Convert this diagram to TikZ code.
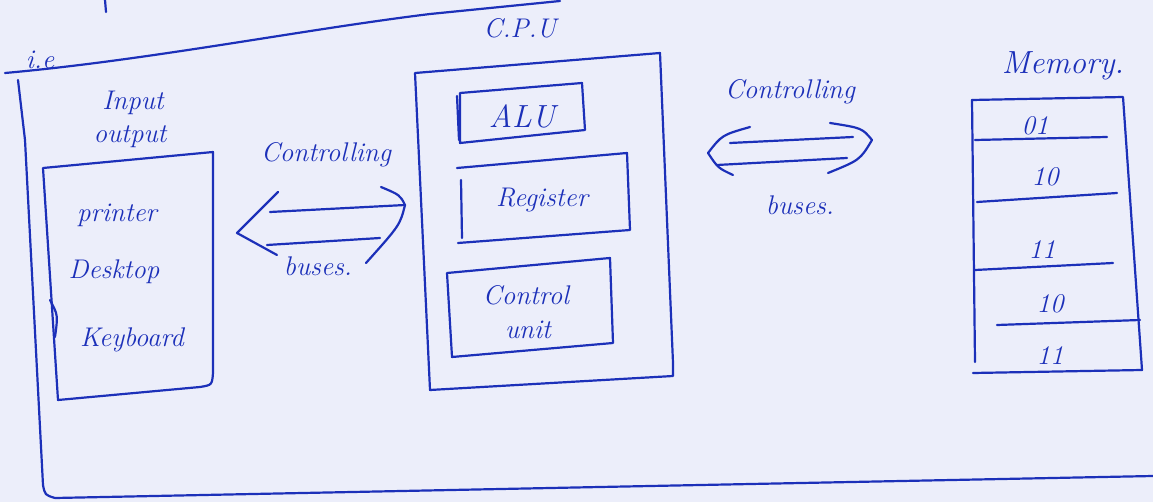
\documentclass[tikz,border=0pt]{standalone}
\usepackage{fontspec}
\definecolor{ink}{RGB}{28,48,185}
\definecolor{paper}{RGB}{236,238,250}
\begin{document}
\begin{tikzpicture}[x=1pt,y=-1pt,
  inkline/.style={draw=ink, line width=2.2pt, line cap=round, line join=round},
  hw/.style={text=ink, font=\fontsize{27}{29}\selectfont\itshape, inner sep=0pt},
  hwbig/.style={text=ink, font=\fontsize{32}{34}\selectfont\itshape, inner sep=0pt}]
\fill[paper] (0,0) rectangle (1153,502);
\useasboundingbox (0,0) rectangle (1153,502);

% top stroke and curve
\draw[inkline] (105,0) -- (106,12);
\draw[inkline] (5,73) .. controls (150,60) and (300,30) .. (430,14) -- (560,1);
\node[hw] (ie) at (40,60) {i.e};

% outer frame
\draw[inkline] (18,80) -- (25,140) -- (43,485) .. controls (45,495) .. (55,498) -- (600,487) -- (1153,476);

% Input / output
\node[hw] (inlabel) at (133,103) {Input};
\node[hw] (outlabel) at (130,137) {output};
\draw[inkline] (43,168) -- (213,152) -- (213,373) .. controls (212,385) .. (200,387) -- (58,400) -- cycle;
\draw[inkline] (50,300) .. controls (58,315) .. (55,337);
\node[hw] (printer) at (117,215) {printer};
\node[hw] (desktop) at (114,272) {Desktop};
\node[hw] (keyboard) at (132,340) {Keyboard};

% left bus
\node[hw] (lctrl) at (326,155) {Controlling};
\node[hw] (lbus) at (318,266) {buses.};
\draw[inkline] (270,212) -- (405,205);
\draw[inkline] (267,245) -- (380,238);
\draw[inkline] (278,192) -- (237,233) -- (277,255);
\draw[inkline] (381,187) .. controls (400,195) .. (405,205) .. controls (400,225) .. (366,263);

% CPU
\node[hw] (cpu) at (520,28) {C.P.U};
\draw[inkline] (415,73) -- (660,53) -- (673,363) -- (673,376) -- (430,390) -- cycle;
\draw[inkline] (460,93) -- (582,83) -- (585,130) -- (460,143) -- cycle;
\draw[inkline] (457,96) -- (459,140);
\node[hwbig] (alu) at (522,116) {ALU};
\draw[inkline] (457,168) -- (627,153) -- (630,230) -- (458,243);
\draw[inkline] (461,180) -- (462,238);
\node[hw] (register) at (542,200) {Register};
\draw[inkline] (447,273) -- (610,258) -- (613,343) -- (452,357) -- cycle;
\node[hw] (cu1) at (526,295) {Control};
\node[hw] (cu2) at (528,330) {unit};

% right bus
\node[hw] (rctrl) at (790,92) {Controlling};
\node[hw] (rbus) at (800,205) {buses.};
\draw[inkline] (730,143) -- (853,137);
\draw[inkline] (717,165) -- (847,158);
\draw[inkline] (750,127) .. controls (722,135) .. (708,153) .. controls (718,168) .. (733,175);
\draw[inkline] (830,123) .. controls (862,128) .. (872,140) .. controls (860,160) .. (828,173);

% Memory
\node[hwbig] (memlabel) at (1063,66) {Memory.};
\draw[inkline] (972,100) -- (1123,97) -- (1142,370) -- (973,373);
\draw[inkline] (972,100) -- (975,362);
\draw[inkline] (975,140) -- (1107,137);
\draw[inkline] (977,202) -- (1117,193);
\draw[inkline] (975,270) -- (1113,263);
\draw[inkline] (997,325) -- (1140,320);
\node[hw] (m1) at (1035,126) {01};
\node[hw] (m2) at (1045,177) {10};
\node[hw] (m3) at (1042,250) {11};
\node[hw] (m4) at (1050,304) {10};
\node[hw] (m5) at (1050,356) {11};
\end{tikzpicture}
\end{document}
